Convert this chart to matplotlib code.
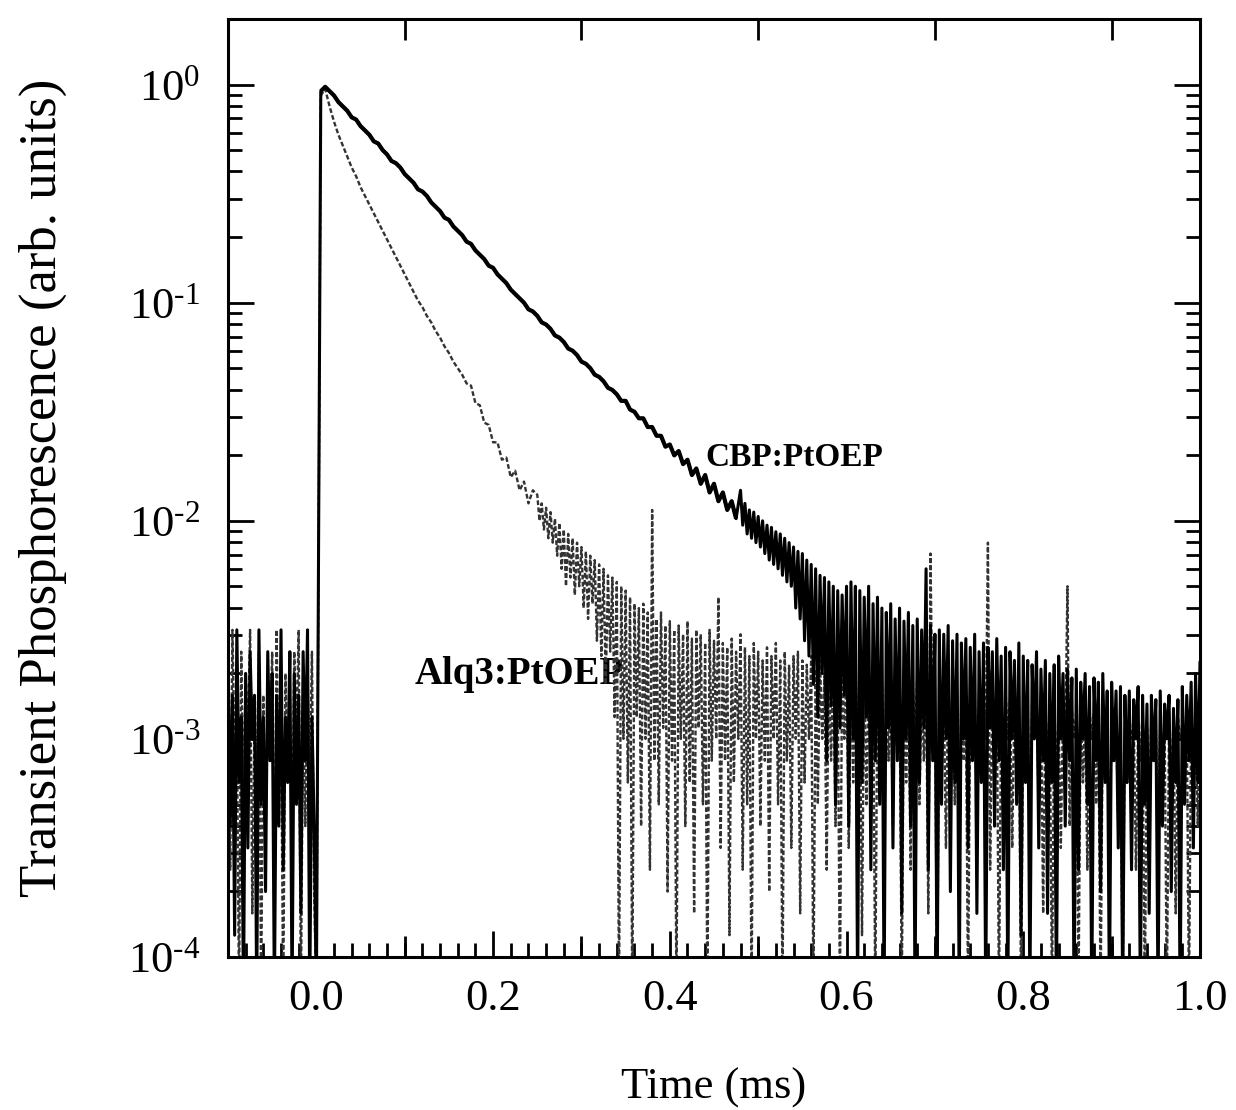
import numpy as np
import matplotlib
matplotlib.use("Agg")
import matplotlib.pyplot as plt
from matplotlib.ticker import FixedLocator, LogLocator, NullFormatter, FixedFormatter

plt.rcParams['font.family'] = ['Liberation Serif', 'DejaVu Serif']
plt.rcParams['mathtext.fontset'] = 'custom'
plt.rcParams['mathtext.rm'] = 'Liberation Serif'
plt.rcParams['mathtext.it'] = 'Liberation Serif:italic'

# values are log10 of the signal
# noisy parts were read every 0.0025 ms, the clean decays every 0.005 ms

# pre-trigger noise, t = -0.1 ... 0.0 ms
pre_t = np.linspace(-0.1, 0.0, 41)
cbp_pre = [
    -2.6, -3.4, -2.8, -3.9, -2.5, -3.2, -2.9, -4.2, -2.7, -3.5,
    -2.6, -3.0, -2.8, -4.2, -2.5, -3.3, -2.9, -3.7, -2.6, -3.1,
    -2.7, -4.2, -2.8, -3.4, -2.5, -3.6, -2.9, -3.2, -2.6, -4.2,
    -2.7, -3.3, -2.8, -3.8, -2.6, -3.1, -2.5, -4.2, -2.9, -3.4,
    -4.2,
]
alq_pre = [
    -2.8, -3.6, -2.5, -3.1, -2.9, -4.2, -2.6, -3.3, -2.7, -3.0,
    -2.5, -3.8, -2.9, -3.2, -2.6, -4.2, -2.8, -3.5, -2.7, -3.0,
    -2.6, -3.9, -2.5, -3.3, -2.9, -4.2, -2.7, -3.1, -2.8, -3.6,
    -2.6, -3.0, -2.5, -4.2, -2.8, -3.4, -2.7, -3.2, -2.6, -3.7,
    -4.2,
]

# CBP:PtOEP decay, t = 0.005 ... 0.475 ms
cbp_decay_t = np.linspace(0.005, 0.475, 95)
cbp_decay = [
    -0.03, -0.01,
    -0.03, -0.05, -0.08, -0.10, -0.12, -0.15, -0.16, -0.19, -0.21, -0.23,
    -0.26, -0.27, -0.30, -0.32, -0.35, -0.36, -0.38, -0.41, -0.43, -0.45,
    -0.48, -0.49, -0.51, -0.54, -0.56, -0.58, -0.61, -0.62, -0.65, -0.67,
    -0.69, -0.72, -0.73, -0.76, -0.78, -0.80, -0.83, -0.84, -0.87, -0.89,
    -0.91, -0.94, -0.96, -0.98, -1.00, -1.03, -1.04, -1.06, -1.09, -1.10,
    -1.12, -1.15, -1.16, -1.18, -1.21, -1.22, -1.24, -1.27, -1.28, -1.30,
    -1.33, -1.34, -1.36, -1.39, -1.40, -1.42, -1.45, -1.45, -1.49, -1.50,
    -1.53, -1.53, -1.57, -1.57, -1.61, -1.61, -1.66, -1.65, -1.70, -1.68,
    -1.74, -1.72, -1.79, -1.76, -1.83, -1.79, -1.87, -1.83, -1.91, -1.87,
    -1.95, -1.91, -1.99,
]

# CBP:PtOEP tail, t = 0.48 ... 1.0 ms
cbp_tail_t = np.linspace(0.48, 1.0, 209)
cbp_tail = [
    -1.86, -2.02, -1.92, -2.06, -1.95, -2.08, -1.96, -2.10, -1.98, -2.12,
    -2.00, -2.15, -2.02, -2.18, -2.03, -2.20, -2.05, -2.22, -2.06, -2.25,
    -2.08, -2.28, -2.10, -2.30, -2.12,
    -2.40, -2.14, -2.45, -2.15, -2.55, -2.18, -2.62, -2.20, -2.75, -2.22,
    -2.90, -2.25, -2.70, -2.26, -3.10, -2.28, -2.85, -2.30, -3.30, -2.32,
    -2.95, -2.34, -2.80, -2.30,
    -3.40, -2.28, -3.00, -2.30, -4.20, -2.32, -3.20, -2.35, -2.90, -2.30,
    -3.60, -2.38, -3.10, -2.35, -3.30, -2.40, -4.20, -2.42, -2.95, -2.38,
    -3.50, -2.45, -3.10, -2.40, -3.80, -2.46, -3.00, -2.42, -3.40, -2.48,
    -4.20, -2.45, -3.20, -2.50, -2.95, -2.22, -3.60, -2.48, -3.10, -2.52,
    -4.20, -2.50, -3.30, -2.52, -3.00, -2.48, -3.70, -2.55, -3.20, -2.52,
    -4.20, -2.56, -3.00, -2.54, -3.50, -2.58, -3.10, -2.52, -3.80, -2.60,
    -3.20, -2.56, -4.20, -2.58, -2.95, -2.60, -3.40, -2.54, -3.10, -2.62,
    -3.60, -2.58, -4.20, -2.60, -3.00, -2.64, -3.30, -2.56, -3.90, -2.62,
    -3.20, -2.64, -4.20, -2.66, -3.00, -2.60, -3.50, -2.68, -3.10, -2.64,
    -3.80, -2.70, -3.20, -2.66, -4.20, -2.62, -3.00, -2.70, -3.40, -2.68,
    -3.10, -2.72, -4.20, -2.68, -3.60, -2.74, -3.00, -2.70, -3.30, -2.76,
    -4.20, -2.72, -3.10, -2.74, -3.70, -2.70, -3.20, -2.78, -4.20, -2.74,
    -3.10, -2.78, -3.50, -2.76, -4.20, -2.80, -3.20, -2.78, -3.60, -2.82,
    -3.00, -2.76, -4.20, -2.80, -3.30, -2.84, -3.80, -2.80, -3.10, -2.82,
    -4.20, -2.78, -3.40, -2.84, -3.00, -2.80, -3.70, -2.86, -3.20, -2.82,
    -4.20, -2.76, -3.30, -2.80, -3.10, -2.74, -3.50, -2.70, -3.20, -2.65,
]

# Alq3:PtOEP decay, t = 0.005 ... 0.245 ms
alq_decay_t = np.linspace(0.005, 0.245, 49)
alq_decay = [
    -0.05, -0.02,
    -0.10, -0.17, -0.23, -0.28, -0.33, -0.38, -0.42, -0.47, -0.51, -0.55,
    -0.59, -0.63, -0.67, -0.71, -0.75, -0.79, -0.83, -0.87, -0.91, -0.95,
    -0.99, -1.02, -1.06, -1.09, -1.13, -1.16, -1.20, -1.23, -1.27, -1.30,
    -1.33, -1.37, -1.38, -1.46, -1.47, -1.55, -1.56, -1.64, -1.64, -1.72,
    -1.71, -1.80, -1.77, -1.86, -1.82, -1.92, -1.86,
]

# Alq3:PtOEP tail, t = 0.25 ... 1.0 ms
alq_tail_t = np.linspace(0.25, 1.0, 301)
alq_tail = [
    -1.88, -2.00, -1.92, -2.04, -1.94, -2.08, -1.96, -2.10, -1.99, -2.16,
    -2.01, -2.22, -2.04, -2.30, -2.06, -2.26, -2.08, -2.34, -2.10, -2.30,
    -2.12,
    -2.40, -2.14, -2.45, -2.16, -2.38, -2.18, -2.55, -2.20, -2.62, -2.22,
    -2.75, -2.25, -2.60, -2.26, -2.90, -2.28, -4.20, -2.30, -3.00, -2.32,
    -3.20, -2.35, -4.20, -2.38, -2.90, -2.40, -3.40, -2.38, -3.00, -2.42,
    -3.60, -1.95, -3.10, -2.45, -3.30, -2.42, -2.95, -2.48, -3.70, -2.46,
    -3.10, -2.50, -4.20, -2.48, -3.00, -2.52, -3.40, -2.46, -3.20, -2.54,
    -3.80, -2.50, -2.95, -2.52, -3.30, -2.56, -4.20, -2.50, -3.10, -2.55,
    -3.00, -2.35, -3.50, -2.56, -3.10, -2.58, -3.90, -2.54, -3.20, -2.60,
    -3.00, -2.52, -3.60, -2.58, -3.30, -2.62, -4.20, -2.56, -3.00, -2.60,
    -3.40, -2.64, -3.10, -2.58, -3.70, -2.62, -3.00, -2.56, -3.30, -2.64,
    -4.20, -2.60, -3.10, -2.66, -3.50, -2.62, -3.00, -2.60, -3.80, -2.64,
    -3.20, -2.66, -3.00, -2.62, -4.20, -2.68, -3.30, -2.64, -3.00, -2.70,
    -3.60, -2.62, -3.10, -2.66, -3.40, -2.70, -4.20, -2.64, -3.00, -2.68,
    -3.50, -2.72, -3.20, -2.66, -3.00, -2.70, -3.90, -2.68, -3.30, -2.72,
    -3.00, -2.66, -4.20, -2.70, -3.20, -2.74, -3.60, -2.68, -3.10, -2.72,
    -3.40, -2.70, -3.00, -2.74, -4.20, -2.68, -3.20, -2.72, -3.60, -2.76,
    -3.00, -2.70, -3.30, -2.74, -3.10, -2.72, -3.80, -2.15, -3.00, -2.76,
    -4.20, -2.72, -3.20, -2.78, -3.50, -2.74, -3.00, -2.76, -3.30, -2.80,
    -3.70, -2.74, -3.10, -2.78, -4.20, -2.76, -3.00, -2.80, -3.40, -2.78,
    -3.20, -2.78, -3.00, -2.10, -3.60, -2.80, -3.10, -2.76, -4.20, -2.82,
    -3.30, -2.78, -3.00, -2.82, -3.50, -2.80, -3.20, -2.84, -4.20, -2.80,
    -3.10, -2.84, -3.60, -2.82, -3.00, -2.86, -3.30, -2.80, -3.80, -2.84,
    -3.10, -2.86, -4.20, -2.82, -3.20, -2.88, -3.50, -2.84, -3.00, -2.30,
    -3.40, -2.86, -3.00, -2.88, -4.20, -2.84, -3.20, -2.90, -3.60, -2.86,
    -3.00, -2.88, -3.30, -2.92, -4.20, -2.86, -3.10, -2.90, -3.70, -2.88,
    -3.00, -2.92, -3.40, -2.90, -4.20, -2.88, -3.20, -2.94, -3.00, -2.90,
    -3.60, -2.92, -3.10, -2.88, -4.20, -2.94, -3.30, -2.90, -3.00, -2.92,
    -3.50, -2.90, -3.10, -2.94, -4.20, -2.88, -3.20, -2.92, -3.80, -2.90,
    -3.00, -2.94, -3.30, -2.88, -4.20, -2.92, -3.10, -2.90, -3.40, -2.85,
]

assert len(cbp_pre) == len(pre_t) and len(alq_pre) == len(pre_t)
assert len(cbp_decay) == len(cbp_decay_t) and len(cbp_tail) == len(cbp_tail_t)
assert len(alq_decay) == len(alq_decay_t) and len(alq_tail) == len(alq_tail_t)

cbp_t = np.concatenate([pre_t, cbp_decay_t, cbp_tail_t])
cbp = 10.0 ** np.array(cbp_pre + cbp_decay + cbp_tail)
alq_t = np.concatenate([pre_t, alq_decay_t, alq_tail_t])
alq = 10.0 ** np.array(alq_pre + alq_decay + alq_tail)

fig = plt.figure(figsize=(12.36, 11.10), dpi=100)
ax = fig.add_axes([228/1236, 1 - 957/1110, (1200-228)/1236, (957-19)/1110])

ax.plot(alq_t, alq, color='0.2', lw=1.7, ls=(0, (2, 1)), zorder=2)
ax.plot(cbp_t, cbp, color='black', lw=2.2, zorder=3)
# the clean part of the CBP decay is drawn heavier, as in the scan
ax.plot(cbp_decay_t, 10.0 ** np.array(cbp_decay), color='black', lw=3.0,
        solid_capstyle='butt', zorder=3)

ax.set_yscale('log')
ax.set_xlim(-0.1, 1.0)
ax.set_ylim(1e-4, 2)

ax.text(0.44, 0.01785, "CBP:PtOEP", fontsize=24, fontweight='bold',
        ha='left', va='baseline', zorder=1.5)
ax.text(0.111, 1.795e-3, "Alq3:PtOEP", fontsize=28, fontweight='bold',
        ha='left', va='baseline', zorder=1.5)

# x ticks: labelled every 0.2, medium every 0.1, minor every 0.02
ax.xaxis.set_major_locator(FixedLocator([0.0, 0.2, 0.4, 0.6, 0.8, 1.0]))
ax.xaxis.set_major_formatter(FixedFormatter(['0.0', '0.2', '0.4', '0.6', '0.8', '1.0']))
ax.xaxis.set_minor_locator(FixedLocator(np.arange(-0.1, 1.001, 0.02)))
ax.yaxis.set_major_locator(FixedLocator([1e-4, 1e-3, 1e-2, 1e-1, 1e0]))
ax.yaxis.set_major_formatter(FixedFormatter(['$10^{\u20104}$', '$10^{\u20103}$',
                                             '$10^{\u20102}$', '$10^{\u20101}$',
                                             '$10^{0}$']))
ax.yaxis.set_minor_locator(LogLocator(base=10, subs=np.arange(2, 10), numticks=20))
ax.yaxis.set_minor_formatter(NullFormatter())

ax.tick_params(which='both', direction='in', top=True, right=True, width=2)
ax.tick_params(which='major', length=19, labelsize=32)
ax.tick_params(which='minor', length=10)
ax.tick_params(axis='x', which='major', pad=16)
ax.tick_params(axis='y', which='major', pad=20)

mid = ax.twiny()
mid.set_xlim(ax.get_xlim())
mid.xaxis.set_major_locator(FixedLocator([-0.1, 0.1, 0.3, 0.5, 0.7, 0.9]))
mid.tick_params(which='major', direction='in', top=True, bottom=True,
                labeltop=False, labelbottom=False, length=15, width=2)
mid.xaxis.set_minor_locator(FixedLocator([]))
for s in mid.spines.values():
    s.set_visible(False)

for s in ax.spines.values():
    s.set_linewidth(2.2)

ax.set_xlabel("Time (ms)", fontsize=32, labelpad=35)
ax.set_ylabel("Transient Phosphorescence (arb. units)", fontsize=38, labelpad=44)

fig.savefig("out.png", dpi=100)
